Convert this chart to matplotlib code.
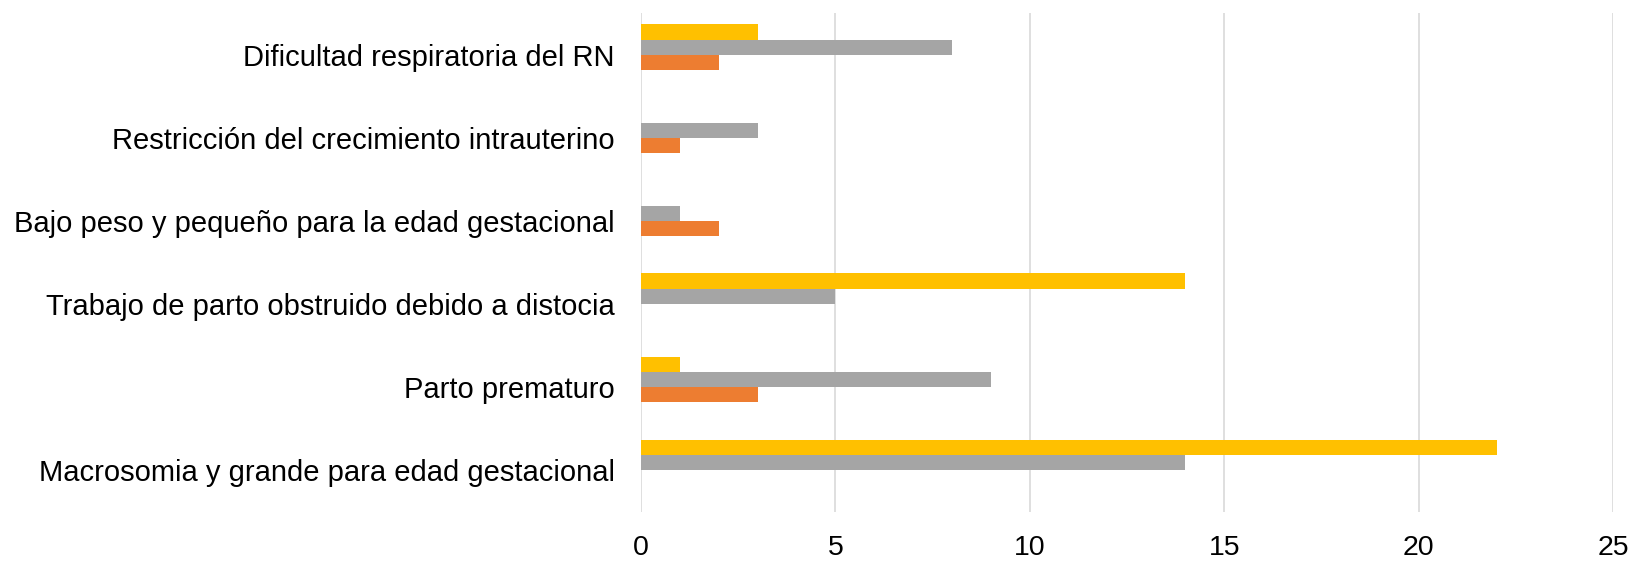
import matplotlib.pyplot as plt
import numpy as np

plt.rcParams['font.family'] = ['Liberation Sans', 'DejaVu Sans']

# categories listed bottom to top
categorias = ["Macrosomia y grande para edad gestacional",
              "Parto prematuro",
              "Trabajo de parto obstruido debido a distocia",
              "Bajo peso y pequeño para la edad gestacional",
              "Restricción del crecimiento intrauterino",
              "Dificultad respiratoria del RN"]
serie_naranja = [0, 3, 0, 2, 1, 2]
serie_gris = [14, 9, 5, 1, 3, 8]
serie_amarilla = [22, 1, 14, 0, 0, 3]
ticks_x = [0, 5, 10, 15, 20, 25]

fig = plt.figure(figsize=(16.43, 5.64), dpi=100)
ax = fig.add_axes([0.3901, 0.0927, 0.9819 - 0.3901, 0.9764 - 0.0927])

y = np.arange(len(categorias))
h = 0.184
ax.barh(y + 1.5 * h, serie_amarilla, height=h, color='#FFC000', zorder=3)
ax.barh(y + 0.5 * h, serie_gris, height=h, color='#A5A5A5', zorder=3)
ax.barh(y - 0.5 * h, serie_naranja, height=h, color='#ED7D31', zorder=3)

ax.set_xlim(0, 25)
ax.set_ylim(-0.5, len(categorias) - 0.5)
ax.set_xticks(ticks_x)
ax.set_yticks(y)
ax.set_yticklabels(categorias, fontsize=21, color='#000000')
ax.tick_params(axis='x', labelsize=20.5, length=0, pad=17, colors='#000000')
ax.tick_params(axis='y', length=0, pad=19)

ax.grid(axis='x', color='#D9D9D9', linewidth=1.2, zorder=0)
for s in ax.spines.values():
    s.set_visible(False)

plt.savefig('out.png', dpi=100)
